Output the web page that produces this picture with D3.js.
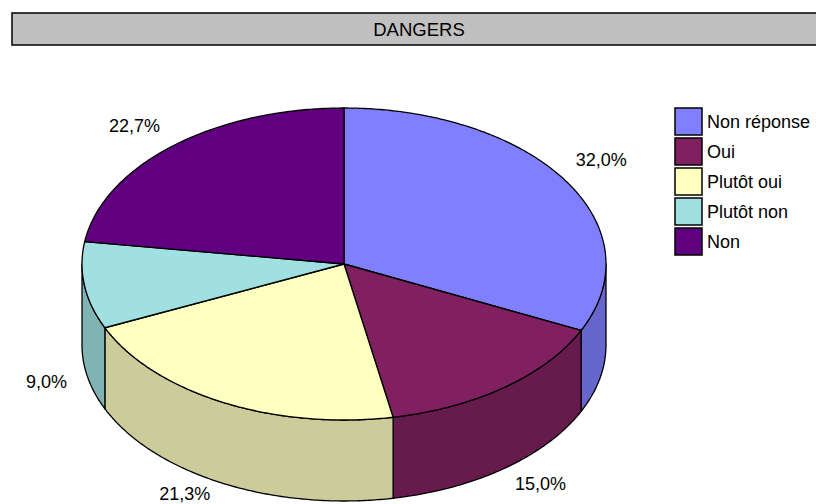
<!DOCTYPE html>
<html><head><meta charset="utf-8">
<script src="https://cdn.jsdelivr.net/npm/d3@7"></script>
<style>
html,body{margin:0;padding:0;background:#fff;}
svg{display:block;font-family:"Liberation Sans",Arial,sans-serif;}
</style></head>
<body>
<svg id="chart" width="816" height="504"></svg>
<script>
const title = "DANGERS";
const categories = ["Non réponse", "Oui", "Plutôt oui", "Plutôt non", "Non"];
const values = [32.0, 15.0, 21.3, 9.0, 22.7];
const labels = ["32,0%", "15,0%", "21,3%", "9,0%", "22,7%"];
const topColors = ["#8080FF", "#802060", "#FFFFC0", "#A0E0E0", "#600080"];
const sideColors = ["#6666CC", "#661A4D", "#CCCC9A", "#80B3B3", "#4D0066"];

const svg = d3.select("#chart");
const W = 816, H = 504;
const cx = 344, cy = 264, rx = 262, ry = 156, depth = 81;

// title bar
svg.append("rect").attr("x", 12).attr("y", 13).attr("width", 820).attr("height", 32)
  .attr("fill", "#C0C0C0").attr("stroke", "#000").attr("stroke-width", 1.5);
svg.append("text").attr("x", 419).attr("y", 29).attr("text-anchor", "middle")
  .attr("dominant-baseline", "central").attr("font-size", 18.5).attr("fill", "#000").text(title);

const pie = d3.pie().sort(null).value(d => d).startAngle(0).endAngle(2 * Math.PI);
const arcs = pie(values);

const px = a => cx + rx * Math.sin(a);
const py = (a, dz = 0) => cy - ry * Math.cos(a) + dz;
const line = d3.line().curve(d3.curveLinear);

function sample(a0, a1) {
  const n = Math.max(2, Math.ceil(Math.abs(a1 - a0) / 0.01));
  return d3.range(n + 1).map(i => a0 + (a1 - a0) * i / n);
}

const g = svg.append("g");

// side walls (visible front half: angles between PI/2 and 3PI/2)
arcs.forEach((d, i) => {
  const a0 = Math.max(d.startAngle, Math.PI / 2);
  const a1 = Math.min(d.endAngle, 3 * Math.PI / 2);
  if (a1 <= a0) return;
  const topPts = sample(a0, a1).map(a => [px(a), py(a)]);
  const botPts = sample(a1, a0).map(a => [px(a), py(a, depth)]);
  g.append("path").attr("d", line(topPts.concat(botPts)) + "Z")
    .attr("fill", sideColors[i]).attr("stroke", "#000").attr("stroke-width", 1.3)
    .attr("stroke-linejoin", "round");
});

// top faces
arcs.forEach((d, i) => {
  const pts = [[cx, cy]].concat(sample(d.startAngle, d.endAngle).map(a => [px(a), py(a)]));
  g.append("path").attr("d", line(pts) + "Z")
    .attr("fill", topColors[i]).attr("stroke", "#000").attr("stroke-width", 1.3)
    .attr("stroke-linejoin", "round");
});

// labels
arcs.forEach((d, i) => {
  const m = (d.startAngle + d.endAngle) / 2;
  const s = Math.sin(m), c = Math.cos(m);
  const front = c < 0;
  const x = px(m) + (s >= 0 ? 36 : -38);
  const y = Math.min(py(m, front ? depth : 0) + (c >= 0 ? -20 : 16), H - 10);
  svg.append("text").attr("x", x).attr("y", y).attr("text-anchor", "middle")
    .attr("dominant-baseline", "central").attr("font-size", 18).attr("fill", "#000")
    .text(labels[i]);
});

// legend
const lg = svg.append("g");
categories.forEach((c, i) => {
  const y0 = 108 + i * 30;
  lg.append("rect").attr("x", 675).attr("y", y0).attr("width", 27).attr("height", 27)
    .attr("fill", topColors[i]).attr("stroke", "#000").attr("stroke-width", 1.5);
  lg.append("text").attr("x", 707).attr("y", y0 + 13.5).attr("dominant-baseline", "central")
    .attr("font-size", 18).attr("fill", "#000").text(c);
});
</script>
</body></html>
